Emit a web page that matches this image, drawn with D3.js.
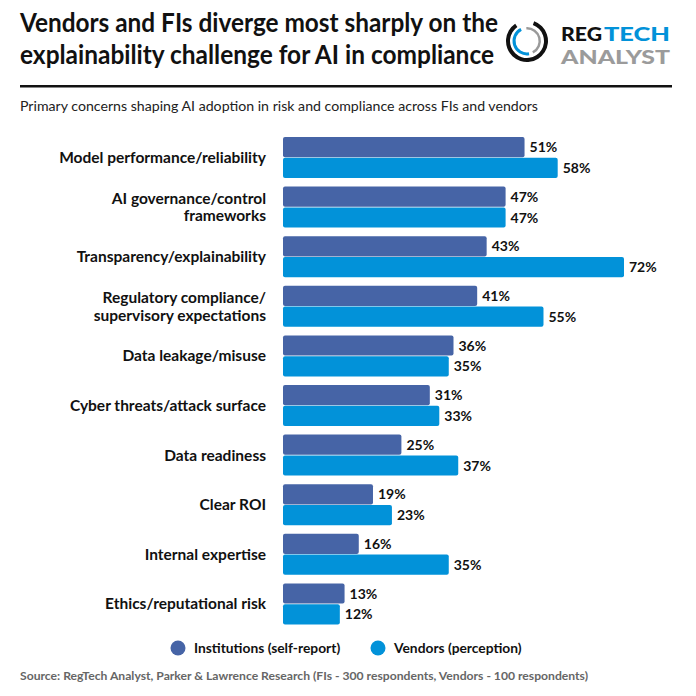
<!DOCTYPE html>
<html><head><meta charset="utf-8">
<script src="https://cdn.jsdelivr.net/npm/d3@7"></script>
<style>body{margin:0;background:#fff}svg{display:block}</style>
</head><body>
<script>
const categories = [
  ["Model performance/reliability"],
  ["AI governance/control", "frameworks"],
  ["Transparency/explainability"],
  ["Regulatory compliance/", "supervisory expectations"],
  ["Data leakage/misuse"],
  ["Cyber threats/attack surface"],
  ["Data readiness"],
  ["Clear ROI"],
  ["Internal expertise"],
  ["Ethics/reputational risk"]
];
const institutions = [51, 47, 43, 41, 36, 31, 25, 19, 16, 13];
const vendors = [58, 47, 72, 55, 35, 33, 37, 23, 35, 12];
const seriesNames = ["Institutions (self-report)", "Vendors (perception)"];
const colors = ["#4664A6", "#0292D9"];

const W = 696, H = 696;
const FONT = "Lato, 'Open Sans', sans-serif";
const svg = d3.select("body").append("svg").attr("width", W).attr("height", H);

function fit(sel, target) {
  sel.attr("textLength", target).attr("lengthAdjust", "spacingAndGlyphs");
}

// Title
const t1 = svg.append("text").attr("x", 20).attr("y", 32).attr("font-family", FONT)
  .attr("font-weight", 700).attr("font-size", 26).attr("fill", "#111")
  .text("Vendors and FIs diverge most sharply on the");
fit(t1, 478);
const t2 = svg.append("text").attr("x", 20).attr("y", 64).attr("font-family", FONT)
  .attr("font-weight", 700).attr("font-size", 26).attr("fill", "#111")
  .text("explainability challenge for AI in compliance");
fit(t2, 474);

// Logo
const lg = svg.append("g").attr("transform", "translate(527,41)");
const arc = d3.arc();
lg.append("path").attr("d", arc({innerRadius: 17, outerRadius: 21, startAngle: 0.35, endAngle: 2 * Math.PI - 0.6})).attr("fill", "#111");
lg.append("path").attr("d", arc({innerRadius: 11.5, outerRadius: 14.5, startAngle: Math.PI * 0.95, endAngle: Math.PI * 1.85})).attr("fill", "#0292D9");
lg.append("path").attr("d", arc({innerRadius: 11.5, outerRadius: 14, startAngle: -0.05, endAngle: Math.PI * 0.85})).attr("fill", "#9a9a9a");
const lr = svg.append("text").attr("x", 561).attr("y", 41).attr("font-family", FONT)
  .attr("font-weight", 900).attr("font-size", 19.5).attr("fill", "#111").text("REG");
fit(lr, 41);
const ltc = svg.append("text").attr("x", 604).attr("y", 41).attr("font-family", FONT)
  .attr("font-weight", 900).attr("font-size", 19.5).attr("fill", "#0292D9").text("TECH");
fit(ltc, 66);
const lt2 = svg.append("text").attr("x", 561).attr("y", 64).attr("font-family", FONT)
  .attr("font-weight", 900).attr("font-size", 19.5).attr("fill", "#9b9b9b").text("ANALYST");
fit(lt2, 109);

// Rule
svg.append("rect").attr("x", 20).attr("y", 85).attr("width", 652).attr("height", 2.5).attr("fill", "#111");

// Subtitle
const st = svg.append("text").attr("x", 20).attr("y", 111).attr("font-family", FONT)
  .attr("font-size", 13.5).attr("fill", "#222")
  .text("Primary concerns shaping AI adoption in risk and compliance across FIs and vendors");
fit(st, 518);

// Scales
const idx = d3.range(categories.length);
const y0 = d3.scaleBand().domain(idx).range([128.4, 633]).paddingInner(0.173).paddingOuter(0.173);
const y1 = d3.scaleBand().domain([0, 1]).range([0, y0.bandwidth()]).paddingInner(0.03);
const x = d3.scaleLinear().domain([0, 72]).range([283, 624]);

const rows = idx.map(i => ({i, vals: [institutions[i], vendors[i]]}));
const g = svg.append("g");
const grp = g.selectAll("g.row").data(rows).join("g").attr("class", "row")
  .attr("transform", d => `translate(0,${y0(d.i)})`);

grp.selectAll("rect").data(d => d.vals.map((v, s) => ({v, s}))).join("rect")
  .attr("x", x(0)).attr("y", d => y1(d.s)).attr("height", y1.bandwidth())
  .attr("width", d => x(d.v) - x(0)).attr("rx", 2).attr("fill", d => colors[d.s]);

grp.selectAll("text.val").data(d => d.vals.map((v, s) => ({v, s}))).join("text")
  .attr("class", "val").attr("x", d => x(d.v) + 5).attr("y", d => y1(d.s) + y1.bandwidth() / 2)
  .attr("dy", "0.36em").attr("font-family", FONT).attr("font-weight", 700)
  .attr("font-size", 14).attr("fill", "#111").text(d => d.v + "%");

// Category labels
grp.each(function(d) {
  const lines = categories[d.i];
  const cy = y0.bandwidth() / 2;
  const lh = 17.5;
  const t = d3.select(this).append("text").attr("text-anchor", "end")
    .attr("font-family", FONT).attr("font-weight", 700).attr("font-size", 15.5).attr("fill", "#111");
  lines.forEach((l, k) => {
    t.append("tspan").attr("x", 266)
      .attr("y", cy + (k - (lines.length - 1) / 2) * lh).attr("dy", "0.36em").text(l);
  });
});

// Legend
const legX = [178, 378];
seriesNames.forEach((n, s) => {
  svg.append("circle").attr("cx", legX[s]).attr("cy", 648).attr("r", 7.5).attr("fill", colors[s]);
  svg.append("text").attr("x", legX[s] + 16).attr("y", 648).attr("dy", "0.36em")
    .attr("font-family", FONT).attr("font-weight", 700).attr("font-size", 13.8).attr("fill", "#111").text(n);
});

// Source
const src = svg.append("text").attr("x", 20).attr("y", 680).attr("font-family", FONT)
  .attr("font-weight", 700).attr("font-size", 12).attr("fill", "#666")
  .text("Source: RegTech Analyst, Parker & Lawrence Research (FIs - 300 respondents, Vendors - 100 respondents)");
fit(src, 568);
</script>
</body></html>
